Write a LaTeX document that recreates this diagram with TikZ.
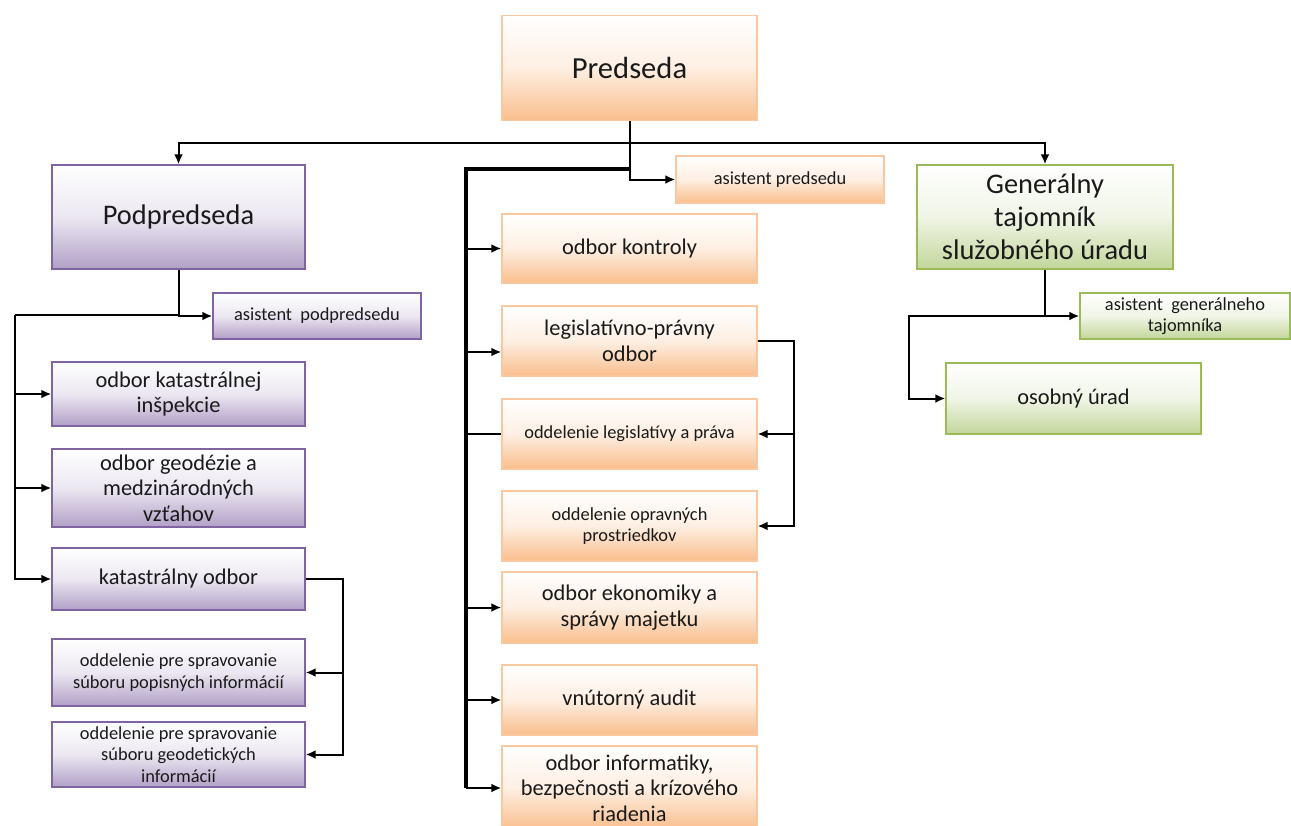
\documentclass[tikz,border=0pt]{standalone}
\usepackage{fontspec}
\usetikzlibrary{arrows.meta}
\setmainfont{Carlito}
\definecolor{orfill}{HTML}{F9BE8C}
\definecolor{ordraw}{HTML}{FAC8A0}
\definecolor{pufill}{HTML}{B1A0C7}
\definecolor{pudraw}{HTML}{8064A2}
\definecolor{grfill}{HTML}{C3D69B}
\definecolor{grdraw}{HTML}{9BBB59}
\definecolor{txt}{HTML}{1A1A1A}
\tikzset{
  unit/.style={draw,line width=0.7bp,align=center,text=txt,inner sep=1bp,
    font=\fontsize{11.2bp}{12.8bp}\selectfont},
  boxsize/.style 2 args={minimum width=#1*0.5bp,minimum height=#2*0.5bp},
  orbox/.style={unit,draw=ordraw,top color=white,bottom color=orfill,middle color=orfill!25!white},
  pubox/.style={unit,draw=pudraw,top color=white,bottom color=pufill,middle color=pufill!25!white},
  grbox/.style={unit,draw=grdraw,top color=white,bottom color=grfill,middle color=grfill!25!white},
  big/.style={font=\fontsize{14.2bp}{16.5bp}\selectfont},
  small/.style={font=\fontsize{9.2bp}{10.8bp}\selectfont},
  link/.style={black,line width=1bp},
  spine/.style={black,line width=1.6bp},
}
\begin{document}
\begin{tikzpicture}[>={Latex[length=5bp,width=4.5bp]},x=0.5bp,y=-0.5bp]
\useasboundingbox (0,0) rectangle (1291,825);
%% top
\node (node_pred) at (629.5,68) [orbox,boxsize={255}{105},font=\fontsize{15.3bp}{18bp}\selectfont] {Predseda};
\node (node_aspred) at (780,179.5) [orbox,small,boxsize={208}{47}] {asistent predsedu};
%% left branch
\node (node_podp) at (178.5,217) [pubox,big,boxsize={253}{104}] {Podpredseda};
\node (node_aspodp) at (317,316) [pubox,small,boxsize={208}{46}] {asistent\ \ podpredsedu};
\node (node_insp) at (178.5,394) [pubox,boxsize={253}{64}] {odbor katastrálnej\\inšpekcie};
\node (node_geod) at (178.5,488) [pubox,boxsize={253}{78}] {odbor geodézie a\\medzinárodných\\vzťahov};
\node (node_kat) at (178.5,579) [pubox,boxsize={253}{62}] {katastrálny odbor};
\node (node_popis) at (178.5,672.5) [pubox,small,boxsize={253}{67}] {oddelenie pre spravovanie\\súboru popisných informácií};
\node (node_geodet) at (178.5,754.5) [pubox,small,boxsize={253}{65}] {oddelenie pre spravovanie\\súboru geodetických\\informácií};
%% middle branch
\node (node_kontr) at (629.5,248.5) [orbox,boxsize={255}{69}] {odbor kontroly};
\node (node_leg) at (629.5,341) [orbox,boxsize={255}{70}] {legislatívno-právny\\odbor};
\node (node_legodd) at (629.5,434) [orbox,small,boxsize={255}{70}] {oddelenie legislatívy a práva};
\node (node_oprav) at (629.5,526) [orbox,small,boxsize={255}{70}] {oddelenie opravných\\prostriedkov};
\node (node_ekon) at (629.5,607.5) [orbox,boxsize={255}{71}] {odbor ekonomiky a\\správy majetku};
\node (node_audit) at (629.5,700) [orbox,boxsize={255}{70}] {vnútorný audit};
\node (node_info) at (629.5,788) [orbox,boxsize={255}{84}] {odbor informatiky,\\bezpečnosti a krízového\\riadenia};
%% right branch
\node (node_gen) at (1045,217) [grbox,big,boxsize={256}{104}] {Generálny\\tajomník\\služobného úradu};
\node (node_asgen) at (1185,316) [grbox,small,boxsize={210}{46}] {asistent\ \ generálneho\\tajomníka};
\node (node_osob) at (1073.5,398.5) [grbox,boxsize={255}{71}] {osobný úrad};
%% helper points
\coordinate (hub) at (629.5,143);
\coordinate (midtop) at (629.5,169);
\coordinate (midspine) at (466,169);
\coordinate (midend) at (466,788);
\coordinate (podpjoin) at (178.5,315);
\coordinate (genjoin) at (1045,316);
%%
\draw [link] (node_pred.south) -- (hub);
\draw [link,->] (hub) -| (node_podp.north);
\draw [link,->] (hub) -| (node_gen.north);
\draw [link,->] (hub) |- (node_aspred.west);
\draw [spine] (midtop) -- (midspine) -- (midend);
\draw [link,->] (midspine) |- (node_kontr.west);
\draw [link,->] (midspine) |- ([yshift=-5.5bp]node_leg.west);
\draw [link] (midspine) |- (node_legodd.west);
\draw [link,->] (midspine) |- (node_ekon.west);
\draw [link,->] (midspine) |- (node_audit.west);
\draw [link,->] (midend) -- (node_info.west);
\draw [link,->] (node_leg.east) -- ++(36,0) |- (node_legodd.east);
\draw [link,->] (node_leg.east) -- ++(36,0) |- (node_oprav.east);
% podpredseda
\draw [link,->] (node_podp.south) |- (node_aspodp.west);
\draw [link] (podpjoin) -- ++(-163.5,0) coordinate (podpspine);
\draw [link,->] (podpspine) |- (node_insp.west);
\draw [link,->] (podpspine) |- (node_geod.west);
\draw [link,->] (podpspine) |- (node_kat.west);
\draw [link,->] (node_kat.east) -- ++(37,0) |- (node_popis.east);
\draw [link,->] (node_kat.east) -- ++(37,0) |- (node_geodet.east);
% generalny tajomnik
\draw [link,->] (node_gen.south) |- (node_asgen.west);
\draw [link,->] (genjoin) -- ++(-136,0) |- (node_osob.west);
%
\end{tikzpicture}
\end{document}
